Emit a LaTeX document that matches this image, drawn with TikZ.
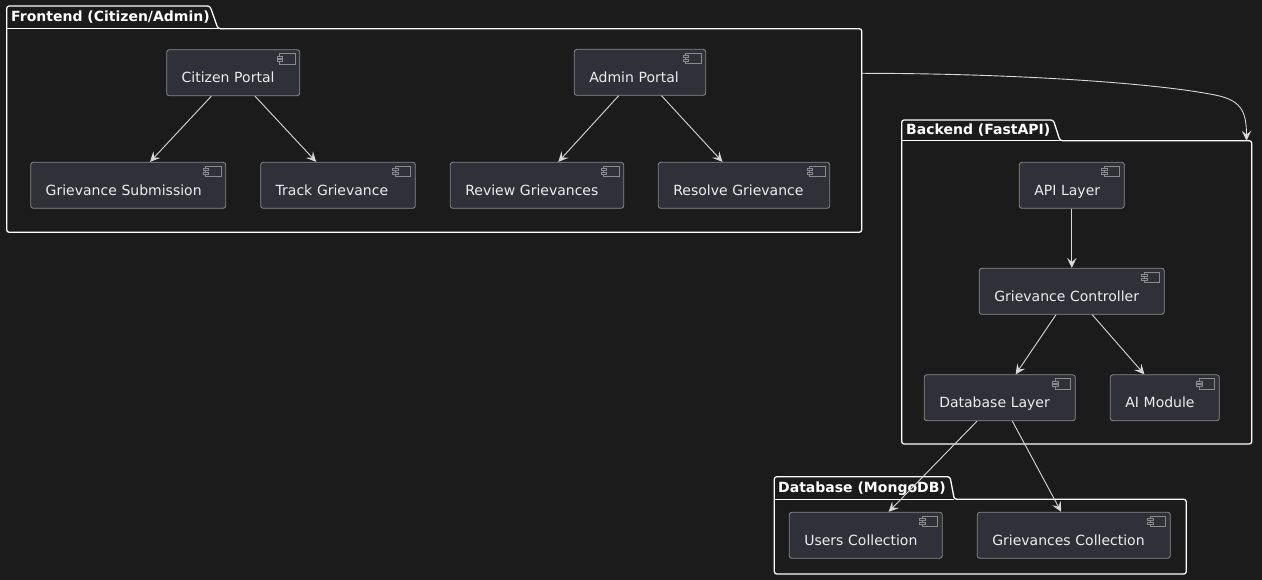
\documentclass[tikz,border=0pt]{standalone}
\usepackage{fontspec}
\setmainfont{DejaVu Sans}
\usetikzlibrary{arrows.meta,calc}
\definecolor{bg}{HTML}{1B1B1B}
\definecolor{compfill}{HTML}{303038}
\definecolor{compline}{HTML}{8A8A8A}
\definecolor{txt}{HTML}{EDEDED}
\definecolor{arrowc}{HTML}{D8D8D8}
\newcommand\compicon[1]{%
  \draw[compline, line width=0.7pt, fill=compfill]
    ([xshift=-20.4pt,yshift=-4pt]#1.north east) rectangle ([xshift=-5pt,yshift=-14.6pt]#1.north east);
  \draw[compline, line width=0.7pt, fill=compfill]
    ([xshift=-23pt,yshift=-6.8pt]#1.north east) rectangle ([xshift=-17.8pt,yshift=-8.8pt]#1.north east);
  \draw[compline, line width=0.7pt, fill=compfill]
    ([xshift=-23pt,yshift=-10.2pt]#1.north east) rectangle ([xshift=-17.8pt,yshift=-12.2pt]#1.north east);
}
\begin{document}
\begin{tikzpicture}[x=1pt,y=-1pt,
  comp/.style={draw=compline, fill=compfill, rounded corners=2.5pt, line width=0.8pt,
    minimum height=46pt, inner xsep=15pt, inner ysep=0pt, text height=20pt, text depth=0pt,
    align=left, text=txt, font=\fontsize{14}{16}\selectfont},
  arr/.style={draw=arrowc, line width=0.9pt, -{Stealth[length=10pt,width=9.5pt,inset=4pt]}},
  pkg/.style={draw=white, line width=1.3pt, rounded corners=2.5pt},
  pkgtitle/.style={anchor=base west, inner sep=0pt, text=white, font=\bfseries\fontsize{14}{16}\selectfont},
]
\fill[bg] (0,0) rectangle (1262,580);
\useasboundingbox (0,0) rectangle (1262,580);

% packages
\draw[pkg] (6.7,28.7) -- (6.7,6) -- (210,6) -- (218,28.7) -- (861.7,28.7) -- (861.7,232.3) -- (6.7,232.3) -- cycle;
\draw[draw=white, line width=1.3pt] (6.7,28.7) -- (218,28.7);
\node[pkgtitle] (fet) at (11,21.2) {Frontend (Citizen/Admin)};

\draw[pkg] (901.7,140.7) -- (901.7,120) -- (1053.3,120) -- (1060,140.7) -- (1251.7,140.7) -- (1251.7,444) -- (901.7,444) -- cycle;
\draw[draw=white, line width=1.3pt] (901.7,140.7) -- (1060,140.7);
\node[pkgtitle] (bet) at (906,134.5) {Backend (FastAPI)};

\draw[pkg] (774.3,499.3) -- (774.3,476.7) -- (950,476.7) -- (954.3,499.3) -- (1186.3,499.3) -- (1186.3,574) -- (774.3,574) -- cycle;
\draw[draw=white, line width=1.3pt] (774.3,499.3) -- (954.3,499.3);
\node[pkgtitle] (dbt) at (778,492) {Database (MongoDB)};

% components
\node[comp, text width=103pt] (cp) at (233.2,72.7) {Citizen Portal};
\node[comp, text width=101.4pt] (ap) at (640,72.3) {Admin Portal};
\node[comp, text width=165pt] (gs) at (128.2,185.3) {Grievance Submission};
\node[comp, text width=124.6pt] (tg) at (338,185.3) {Track Grievance};
\node[comp, text width=143.4pt] (rg) at (537,185.3) {Review Grievances};
\node[comp, text width=141.4pt] (rs) at (744,185.3) {Resolve Grievance};
\node[comp, text width=75pt] (api) at (1071.8,185.3) {API Layer};
\node[comp, text width=155pt] (gc) at (1071.8,291.3) {Grievance Controller};
\node[comp, text width=121pt] (dl) at (999.8,397.8) {Database Layer};
\node[comp, text width=79pt] (ai) at (1164.8,397.8) {AI Module};
\node[comp, text width=123pt] (uc) at (865.8,535.3) {Users Collection};
\node[comp, text width=163pt] (gcol) at (1073.8,535.3) {Grievances Collection};

\foreach \n in {cp,ap,gs,tg,rg,rs,api,gc,dl,ai,uc,gcol}{\compicon{\n}}

% connectors
\draw[arr] (cp) -- (gs);
\draw[arr] (cp) -- (tg);
\draw[arr] (ap) -- (rg);
\draw[arr] (ap) -- (rs);
\draw[arr] (api) -- (gc);
\draw[arr] (gc) -- (dl);
\draw[arr] (gc) -- (ai);
\draw[arr] (dl) -- (uc);
\draw[arr] (dl) -- (gcol);

\coordinate (feout) at (861.7,73.3);
\coordinate (bein) at (1246.5,140.7);
\draw[arr] (feout) .. controls (1000,73.3) and (1150,82) .. (1215,95) .. controls (1240,100) and (1246.5,110) .. (bein);
\end{tikzpicture}
\end{document}
